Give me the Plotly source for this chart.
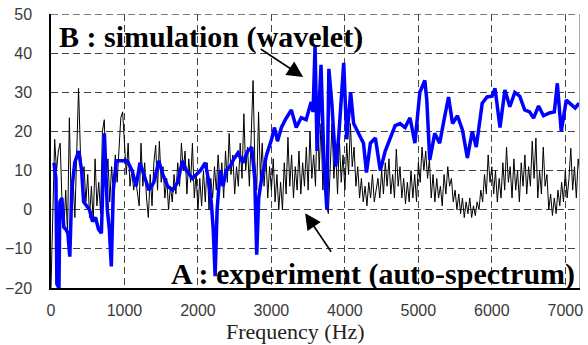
import plotly.graph_objects as go

# Experimental auto-spectrum (dB), sampled every 25 Hz from 0 to 7200 Hz
FREQ_STEP_HZ = 25
experiment_db = [
    -20, 2, 18, 10, 15, 17, 2, -5, 5, -6, 23.5, 1, 8, -2, 14, 31,
    15, 8, 11, 2, 9, -2, 6, -3, 13, 1, 7, -1, 20, 23, 8, 13,
    2, 11, 4, 14, 7, 15, 23.5, 25, 16, 9, 17, 6, 10, 5, 8, 4,
    1, 17, 6, 12, 3, -2, 9, 1, 12, 16.5, 5, 17.5, 7, 11, 3, 8,
    0, 6, 2, 9, 4, 12, 6, 17, 10, 15, 4, 13, 7, 17, 3, 9,
    0, 8, 1, 10, 2, 12, 0, 8, 3, 11, 5, 14, 6, 12, 3, 15,
    7, 19.5, 9, 14, 4, 11, 6, 17, 8, 24.5, 10, 16, 6, 19, 33, 12,
    5, 25, 8, 17, 6, 14, 3, 11, 5, 13, 2, 9, 0, 7, 0, 12,
    4, 18.5, 6, 14, 3, 11, 5, 15, 4, 12, 6, 16, 5, 20, 8, 14,
    6, 27, 10, 22, 5, 13, 1, -1, 9, 22, 8, 15, 4, 18, 7, 14,
    5, 17, 9, 22, 11, 16, 6, 11, 3, 8, 2, 6, 1, 7, 3, 9,
    2, 5, 8, 3, 10, 4, 12, 6, 13, 4, 9, 3, 15.5, 6, 11, 3,
    8, 1.5, 7, 2, 10, 3, 9, 2, 12, 7, 16, 10, 15, 8, 13, 3,
    9, 2, 8, 3, 6, 1, 9, 4, 11, 6, 8, 2, 5, 0, 4, -1,
    3, -2, 2, -1, 3, -2, 1, -1.5, 2, 0, 5, 2, 9, 4, 14, 7,
    11, 4, 10, 2, 8, 3, 12, 5, 16, 7, 11, 3, 13, 5, 10, 2,
    12, 6, 14, 4, 11, 6, 17.5, 8, 18.3, 3, 10, 4, 16, 6, 9, 0,
    4, -1.5, 3, -1, 5, 1, 7, 2, 10, 3, 8, 15.7, 5, 11, 3, 13,
    9,
]
experiment_hz = [i * FREQ_STEP_HZ for i in range(len(experiment_db))]

# Wavelet-based simulation (dB)
simulation_hz = [
    40, 67, 80, 108, 121, 148, 175, 202, 229, 256, 283, 323, 377, 417, 444, 485,
    525, 565, 606, 646, 686, 727, 767, 794, 821, 848, 888, 956, 1036, 1104, 1158, 1211,
    1265, 1333, 1400, 1467, 1521, 1588, 1656, 1723, 1790, 1844, 1925, 1979, 2032, 2100, 2140, 2181,
    2208, 2234, 2261, 2302, 2342, 2382, 2436, 2490, 2544, 2611, 2679, 2732, 2773, 2800, 2827, 2867,
    2934, 3002, 3042, 3083, 3136, 3190, 3271, 3338, 3405, 3473, 3540, 3567, 3594, 3621, 3648, 3675,
    3715, 3755, 3782, 3823, 3876, 3917, 3957, 3984, 4025, 4078, 4119, 4186, 4253, 4294, 4347, 4415,
    4482, 4549, 4617, 4684, 4751, 4819, 4886, 4953, 5020, 5088, 5115, 5155, 5223, 5290, 5357, 5411,
    5465, 5532, 5600, 5667, 5734, 5788, 5869, 5936, 6003, 6044, 6111, 6178, 6245, 6313, 6380, 6447,
    6514, 6568, 6636, 6703, 6784, 6851, 6891, 6945, 7013, 7080, 7134, 7188,
]
simulation_db = [
    12, 8, -19, -20, 2, 3, -4.5, -5, -6, -12, 5, 12, 15, 10, 2, 1,
    0, -3, -2, -5, -6, 19.5, 0, -5, -14.5, 5, 12.5, 12.5, 12.5, 10, 6, 12,
    9, 5, 7, 12.5, 9, 6, 5, 7, 12.5, 10, 8, 9, 10, 12, 8, 2,
    -5, -17, 0, 10, 6, 10, 11, 13, 14.5, 12, 15, 16, 8, -11.5, 3, 8,
    14, 18, 21, 17.5, 21, 23, 25.5, 21, 23.5, 23, 27.5, 25, 42, 15, 28, 37,
    12, 0, 36, 27, 11, 19, 30, 37.5, 18, 30, 22, 19.5, 17, 9.5, 17, 18.3,
    10, 15, 18, 21.5, 22, 21, 23.5, 17, 30, 33, 28, 12.7, 19.5, 17, 23.7, 28.8,
    22, 24, 20.4, 13.2, 20, 16, 27.2, 28.8, 29, 31, 21, 30.6, 26.3, 30, 29, 25.5,
    25, 23.4, 26.5, 24, 24.7, 25, 32.3, 20, 28, 26.8, 26, 27.2,
]

x_ticks = [0, 1000, 2000, 3000, 4000, 5000, 6000, 7000]
y_ticks = [-20, -10, 0, 10, 20, 30, 40, 50]

fig = go.Figure()
fig.add_trace(go.Scatter(
    x=experiment_hz, y=experiment_db, mode="lines",
    line=dict(color="black", width=1), name="A : experiment (auto-spectrum)",
))
fig.add_trace(go.Scatter(
    x=simulation_hz, y=simulation_db, mode="lines",
    line=dict(color="#0000ff", width=3.5), name="B : simulation (wavelet)",
))

grid_dash = "7px,4px"
tick_font = dict(family="Arial, Liberation Sans, sans-serif", size=16, color="#3a3a3a")
serif = "Liberation Serif"

fig.update_xaxes(
    range=[0, 7200], tickvals=x_ticks, ticks="", ticklabelstandoff=7,
    showgrid=True, gridcolor="#444444", griddash=grid_dash, gridwidth=1,
    zeroline=False, showline=True, linecolor="black", linewidth=1.5,
    tickfont=tick_font,
)
fig.update_yaxes(
    range=[-20, 50], tickvals=y_ticks, ticks="", ticklabelstandoff=14,
    showgrid=True, gridcolor="#444444", griddash=grid_dash, gridwidth=1,
    zeroline=False, showline=True, linecolor="black", linewidth=1.5,
    tickfont=tick_font,
)

# x-axis caption, sitting against the bottom of the figure
fig.add_annotation(x=0.4625, y=-0.208, xref="paper", yref="paper", text="Frequency (Hz)",
                   showarrow=False, xanchor="center", yanchor="bottom", borderpad=0,
                   font=dict(family=serif, size=22, color="#222222"))

# frame: dashed top edge, thin grey right edge
fig.add_shape(type="line", xref="paper", yref="y", x0=0, x1=1, y0=50, y1=50,
              line=dict(color="#555555", width=1.5, dash=grid_dash))
fig.add_shape(type="line", xref="x", yref="paper", x0=7200, x1=7200, y0=0, y1=1,
              line=dict(color="#aaaaaa", width=2))

label_font = dict(family=serif, size=30, color="black")
fig.add_annotation(x=80, y=44, xref="x", yref="y", text="<b>B : simulation (wavelet)</b>",
                   showarrow=False, xanchor="left", yanchor="middle", font=label_font)
fig.add_annotation(x=1600, y=-16.5, xref="x", yref="y", text="<b>A : experiment (auto-spectrum)</b>",
                   showarrow=False, xanchor="left", yanchor="middle", font=label_font)

# pointers from each label to its curve
fig.add_annotation(x=3432, y=33.9, xref="x", yref="y", text="", showarrow=True,
                   ax=-44, ay=-29, arrowhead=2, arrowsize=2, arrowwidth=1.6, arrowcolor="black")
fig.add_annotation(x=3459, y=-0.9, xref="x", yref="y", text="", showarrow=True,
                   ax=27, ay=40, arrowhead=2, arrowsize=2, arrowwidth=1.6, arrowcolor="black")

fig.update_layout(
    width=588, height=345, showlegend=False,
    margin=dict(l=49, r=5, t=14, b=57),
    paper_bgcolor="white", plot_bgcolor="white",
)

fig.write_html("out.html")
